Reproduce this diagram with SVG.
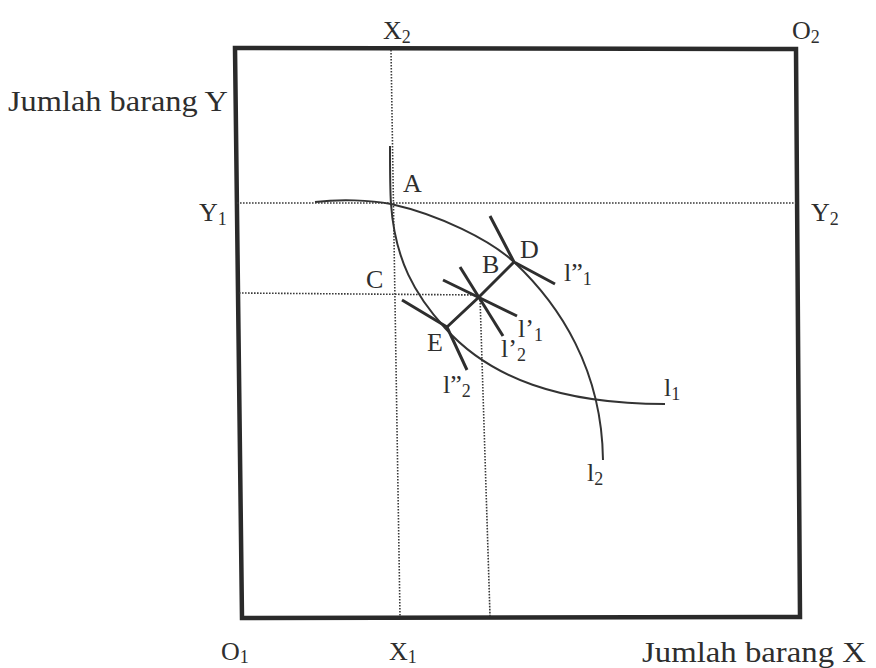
<svg xmlns="http://www.w3.org/2000/svg" width="876" height="668" viewBox="0 0 876 668">
<style>
.t{font-family:"Liberation Serif","Times New Roman",serif;fill:#2e2e2e}
.lab{font-size:26px}
.big{font-size:30px}
.sub{font-size:18px}
.dot{fill:none;stroke:#3a3a3a;stroke-width:1.6;stroke-dasharray:1.6 1.4}
.crv{fill:none;stroke:#333;stroke-width:2}
.tan{fill:none;stroke:#2e2e2e;stroke-width:3;stroke-linecap:butt}
</style>
<rect width="876" height="668" fill="#fff"/>
<g id="box">
<polygon points="235,48 796,49 800,617 242,618" fill="none" stroke="#2a2a2a" stroke-width="4.5" stroke-linejoin="miter"/>
</g>
<g id="connectors">
<line class="dot" x1="391" y1="50" x2="400" y2="616"/>
<line class="dot" x1="237" y1="203" x2="796" y2="203"/>
<line class="dot" x1="239" y1="293" x2="479" y2="295"/>
<line class="dot" x1="480" y1="297" x2="490" y2="616"/>
<path id="l1" class="crv" d="M390,146 C390,170 390,190 391,204 C395,260 415,295 445,328 C490,378 560,404 665,404"/>
<path id="l2" class="crv" d="M315,202 C340,199 370,200 391,204 C440,215 490,240 514,262 C560,305 602,370 603,460"/>
<polyline class="tan" points="447,327 479,297 514,262"/>
<polyline class="tan" points="490,216 514,262 555,284"/>
<line class="tan" x1="443" y1="280" x2="517" y2="316"/>
<line class="tan" x1="460" y1="267" x2="503" y2="336"/>
<polyline class="tan" points="402,300 447,327 467,370"/>
</g>
<g id="labels" class="t">
<text class="big" x="8" y="111" textLength="220" lengthAdjust="spacingAndGlyphs">Jumlah barang Y</text>
<text class="big" x="642" y="662" textLength="224" lengthAdjust="spacingAndGlyphs">Jumlah barang X</text>
<text class="lab" x="383" y="39">X<tspan class="sub" dy="4">2</tspan></text>
<text class="lab" x="792" y="39">O<tspan class="sub" dy="4">2</tspan></text>
<text class="lab" x="199" y="221">Y<tspan class="sub" dy="4">1</tspan></text>
<text class="lab" x="811" y="221">Y<tspan class="sub" dy="4">2</tspan></text>
<text class="lab" x="221" y="660">O<tspan class="sub" dy="3">1</tspan></text>
<text class="lab" x="389" y="660">X<tspan class="sub" dy="3">1</tspan></text>
<text class="lab" x="403" y="192">A</text>
<text class="lab" x="366" y="288">C</text>
<text class="lab" x="482" y="273">B</text>
<text class="lab" x="520" y="258">D</text>
<text class="lab" x="427" y="351">E</text>
<text class="lab" x="564" y="281">l”<tspan class="sub" dy="4">1</tspan></text>
<text class="lab" x="518" y="337">l’<tspan class="sub" dy="4">1</tspan></text>
<text class="lab" x="501" y="357">l’<tspan class="sub" dy="4">2</tspan></text>
<text class="lab" x="443" y="393">l”<tspan class="sub" dy="4">2</tspan></text>
<text class="lab" x="664" y="396">l<tspan class="sub" dy="4">1</tspan></text>
<text class="lab" x="587" y="481">l<tspan class="sub" dy="4">2</tspan></text>
</g>
</svg>
